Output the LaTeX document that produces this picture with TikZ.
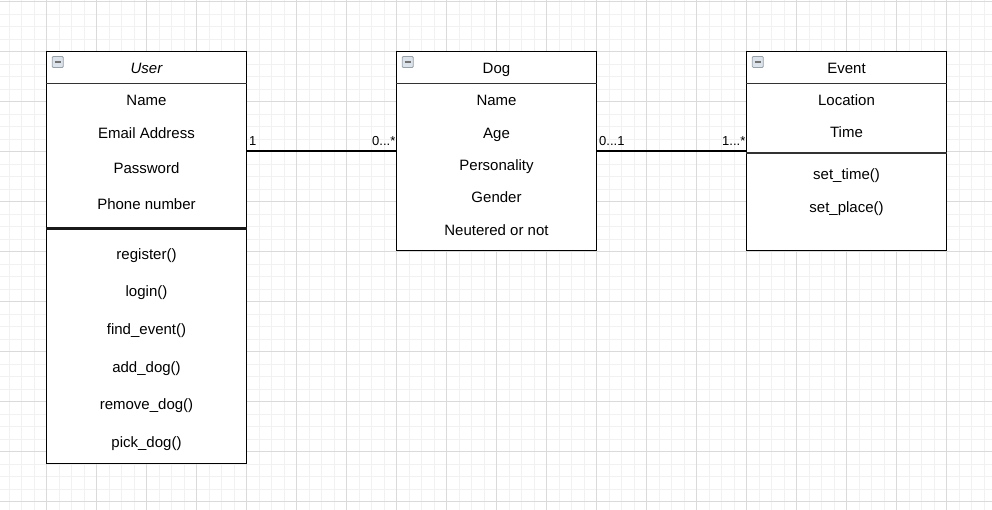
\documentclass[tikz,border=0pt]{standalone}
\usepackage{fontspec}
\setmainfont{Liberation Sans}
\definecolor{gridminor}{HTML}{F1F1F1}
\definecolor{gridmajor}{HTML}{DADADA}
\definecolor{iconfill}{HTML}{DDE3EA}
\definecolor{iconborder}{HTML}{98A0A8}
\definecolor{sepgray}{HTML}{333333}
\begin{document}
\begin{tikzpicture}[x=1pt,y=-1pt,
  classbox/.style={draw=black, line width=1.3pt, fill=white, inner sep=0pt},
  member/.style={font=\fontsize{15}{18}\selectfont, anchor=base, inner sep=0pt},
  multl/.style={font=\fontsize{13}{15}\selectfont, inner sep=0pt, anchor=base west},
  multr/.style={font=\fontsize{13}{15}\selectfont, inner sep=0pt, anchor=base east},
  headline/.style={draw=sepgray, line width=1.3pt},
  thicksep/.style={draw=black!90, line width=2.6pt},
  conn/.style={draw=black, line width=1.1pt},
  icon/.style={draw=iconborder, fill=iconfill, line width=0.8pt, minimum size=11pt, inner sep=0pt, rounded corners=1pt,
    path picture={\draw[black!55, line width=1.1pt] ([xshift=2.6pt]path picture bounding box.west) -- ([xshift=-2.6pt]path picture bounding box.east);}}
]
\useasboundingbox (0,0) rectangle (992,510);
\fill[white] (0,0) rectangle (992,510);
\begin{scope}
\clip (0,0) rectangle (992,510);
\foreach \i in {0,...,80} \draw[gridminor, line width=1pt] (9.2+12.5*\i,0) -- (9.2+12.5*\i,510);
\foreach \i in {0,...,41} \draw[gridminor, line width=1pt] (0,1.7+12.5*\i) -- (992,1.7+12.5*\i);
\foreach \i in {0,...,20} \draw[gridmajor, line width=1pt] (-3.3+50*\i,0) -- (-3.3+50*\i,510);
\foreach \i in {0,...,10} \draw[gridmajor, line width=1pt] (0,1.7+50*\i) -- (992,1.7+50*\i);
\end{scope}

% class boxes
\node[classbox, minimum width=200pt, minimum height=412pt] (user) at (146.5,257.5) {};
\node[classbox, minimum width=200pt, minimum height=199pt] (dog) at (496.5,151) {};
\node[classbox, minimum width=200pt, minimum height=199pt] (event) at (846.5,151) {};

% header separators
\draw[headline] ([yshift=-32.5pt]user.north west) -- ([yshift=-32.5pt]user.north east);
\draw[headline] ([yshift=-32.5pt]dog.north west) -- ([yshift=-32.5pt]dog.north east);
\draw[headline] ([yshift=-32.5pt]event.north west) -- ([yshift=-32.5pt]event.north east);
\draw[thicksep] ([yshift=-177.8pt]user.north west) -- ([yshift=-177.8pt]user.north east);
\draw[headline, line width=1.5pt] ([yshift=-102pt]event.north west) -- ([yshift=-102pt]event.north east);

% icons
\node[icon] (uicon) at (57.8,62) {};
\node[icon] (dicon) at (407.8,62) {};
\node[icon] (eicon) at (757.8,62) {};

% User
\node[member] (utitle) at (146.5,73.3) {\itshape User};
\node[member] (ua1) at (146.5,106) {Name};
\node[member] (ua2) at (146.5,138.3) {Email Address};
\node[member] (ua3) at (146.5,173.3) {Password};
\node[member] (ua4) at (146.5,210) {Phone number};
\node[member] (um1) at (146.5,259.5) {register()};
\node[member] (um2) at (146.5,297) {login()};
\node[member] (um3) at (146.5,334.5) {find\_event()};
\node[member] (um4) at (146.5,372) {add\_dog()};
\node[member] (um5) at (146.5,409.5) {remove\_dog()};
\node[member] (um6) at (146.5,447) {pick\_dog()};

% Dog
\node[member] (dtitle) at (496.5,73.3) {Dog};
\node[member] (da1) at (496.5,106) {Name};
\node[member] (da2) at (496.5,138.3) {Age};
\node[member] (da3) at (496.5,170.7) {Personality};
\node[member] (da4) at (496.5,202.7) {Gender};
\node[member] (da5) at (496.5,235.7) {Neutered or not};

% Event
\node[member] (etitle) at (846.5,73.3) {Event};
\node[member] (ea1) at (846.5,106) {Location};
\node[member] (ea2) at (846.5,137.7) {Time};
\node[member] (em1) at (846.5,180) {set\_time()};
\node[member] (em2) at (846.5,212.5) {set\_place()};

% connectors
\draw[conn] (user.east |- dog.west) -- (dog.west);
\draw[conn] (dog.east) -- (event.west);

% multiplicities
\node[multl] (m1) at (249,146) {1};
\node[multr] (m2) at (395.5,146) {0...*};
\node[multl] (m3) at (599,146) {0...1};
\node[multr] (m4) at (745.5,146) {1...*};
\end{tikzpicture}
\end{document}
